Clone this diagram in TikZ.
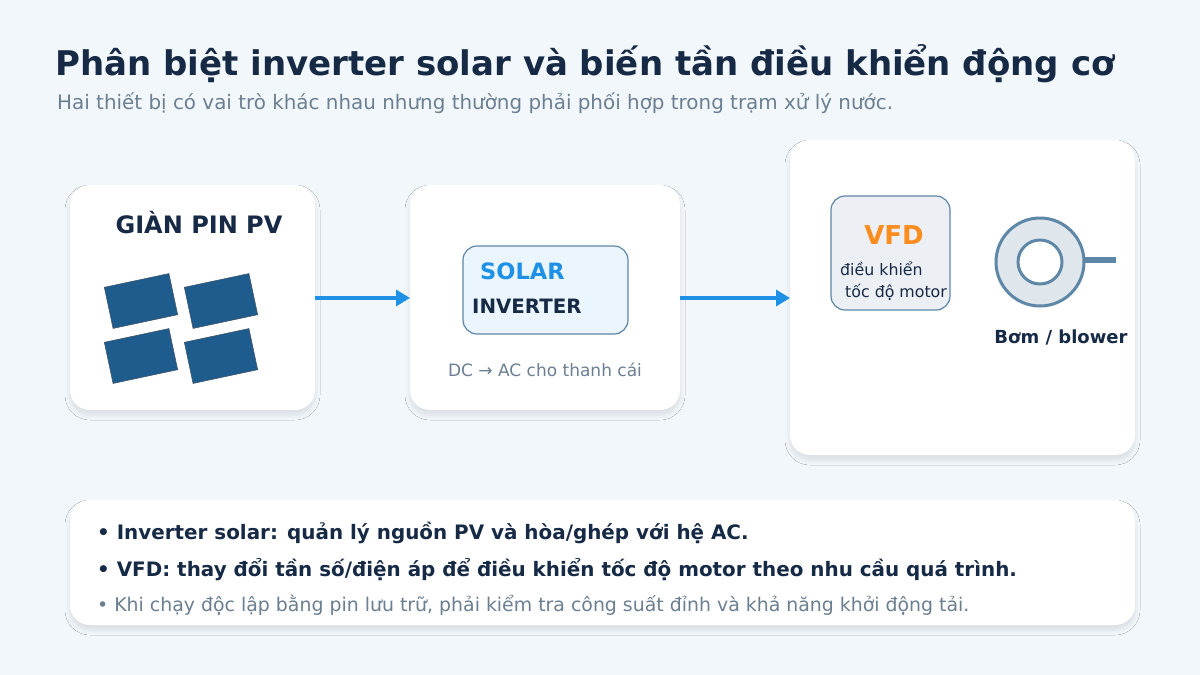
\documentclass[tikz,border=0pt]{standalone}
\usepackage{fontspec}
\setmainfont{DejaVu Sans}
\usetikzlibrary{arrows.meta,shadows.blur}
\definecolor{bg}{HTML}{F2F7FC}
\definecolor{ink}{HTML}{172A45}
\definecolor{gr}{HTML}{6B7F91}
\definecolor{arr}{HTML}{1E90E6}
\definecolor{pan}{HTML}{1D5C8C}
\definecolor{edge}{HTML}{5E86A6}
\definecolor{org}{HTML}{FB8C1E}
\tikzset{
 card/.style={fill=white,rounded corners=20pt,blur shadow={shadow blur steps=6,shadow blur radius=5pt,shadow xshift=0pt,shadow yshift=-5pt,shadow opacity=10}},
 inner/.style={draw=edge,line width=1.2pt,rounded corners=14pt},
 conn/.style={draw=arr,line width=4.5pt,-{Triangle[length=14pt,width=16pt]}},
 panel/.style={draw=ink!80,line width=0.6pt,fill=pan,minimum width=66pt,minimum height=42pt,rotate=12,inner sep=0},
 t/.style={inner sep=0,anchor=base west},
}
\begin{document}
\begin{tikzpicture}[x=1pt,y=-1pt]
\fill[bg] (0,0) rectangle (1200,675);
\useasboundingbox (0,0) rectangle (1200,675);
\node[t,font=\bfseries\fontsize{34}{38}\selectfont,text=ink] (title) at (55,75) {Phân biệt inverter solar và biến tần điều khiển động cơ};
\node[t,font=\fontsize{19.9}{22}\selectfont,text=gr] (sub) at (57,109) {Hai thiết bị có vai trò khác nhau nhưng thường phải phối hợp trong trạm xử lý nước.};
% cards
\path[card] (70,185) rectangle (315,410);
\path[card] (410,185) rectangle (680,410);
\path[card] (790,140) rectangle (1135,455);
\path[card] (70,500) rectangle (1135,625);
\coordinate (pvR) at (315,298); \coordinate (invL) at (410,298);
\coordinate (invR) at (680,298); \coordinate (vfdL) at (790,298);
\draw[conn] (pvR) -- (invL);
\draw[conn] (invR) -- (vfdL);
% PV
\node[font=\bfseries\fontsize{24}{28}\selectfont,text=ink,anchor=base] (pvt) at (199,233) {GIÀN PIN PV};
\node[panel] (p1) at (141,301) {};
\node[panel] (p2) at (221,301) {};
\node[panel] (p3) at (141,356) {};
\node[panel] (p4) at (221,356) {};
% inverter
\draw[inner,fill=arr!9] (463,246) rectangle (628,334);
\node[t,font=\bfseries\fontsize{22.5}{26}\selectfont,text=arr] (sol) at (480,279) {SOLAR};
\node[t,font=\bfseries\fontsize{19.8}{22}\selectfont,text=ink] (invt) at (472,313) {INVERTER};
\node[font=\fontsize{17}{20}\selectfont,text=gr,anchor=base] (dc) at (545,376) {DC → AC cho thanh cái};
% VFD
\draw[inner,fill=edge!12] (831,196) rectangle (950,310);
\node[font=\bfseries\fontsize{26}{30}\selectfont,text=org,anchor=base] (vfd) at (894,244) {VFD};
\node[t,font=\fontsize{15.8}{18}\selectfont,text=ink] (d1) at (840,275) {điều khiển};
\node[t,font=\fontsize{15.8}{18}\selectfont,text=ink] (d2) at (845,297) {tốc độ motor};
% pump
\draw[edge,line width=6pt] (1083,260) -- (1116,260);
\draw[draw=edge,line width=3pt,fill=edge!20] (1040,262) circle (44);
\draw[draw=edge,line width=3pt,fill=white] (1040,262) circle (22);
\node[font=\bfseries\fontsize{18}{20}\selectfont,text=ink,anchor=base] (bm) at (1061,343) {Bơm / blower};
% bullets
\node[t,font=\bfseries\fontsize{19.9}{22}\selectfont,text=ink] (b1) at (97,539) {• Inverter solar: quản lý nguồn PV và hòa/ghép với hệ AC.};
\node[t,font=\bfseries\fontsize{19.9}{22}\selectfont,text=ink] (b2) at (97,576) {• VFD: thay đổi tần số/điện áp để điều khiển tốc độ motor theo nhu cầu quá trình.};
\node[t,font=\fontsize{18.9}{20}\selectfont,text=gr] (b3) at (97,611) {• Khi chạy độc lập bằng pin lưu trữ, phải kiểm tra công suất đỉnh và khả năng khởi động tải.};
\end{tikzpicture}
\end{document}
